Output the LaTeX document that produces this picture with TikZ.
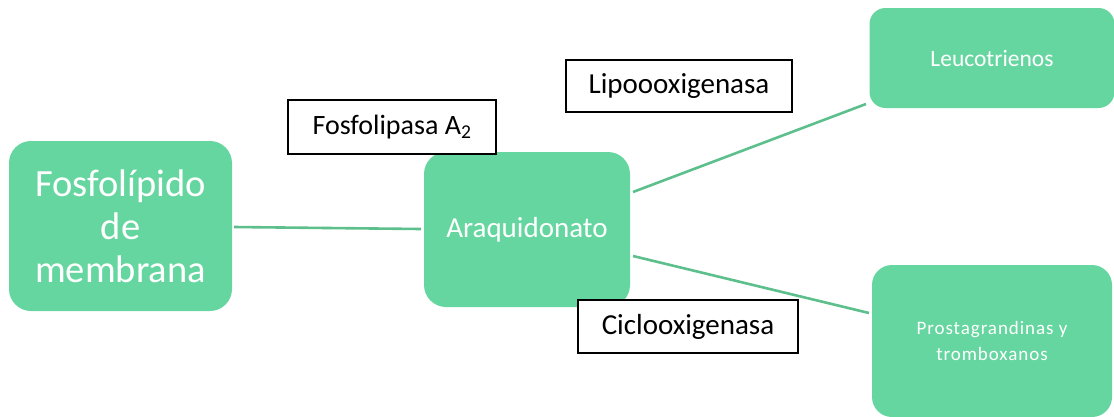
\documentclass[tikz,border=0pt]{standalone}
\usepackage{fontspec}
\setmainfont{Carlito}
\begin{document}
\begin{tikzpicture}[x=1pt,y=-1pt,
  gbox/.style={fill=boxg, draw=none, rounded corners=22pt, text=white, align=center, inner sep=0pt},
  lbl/.style={draw=black, line width=1.6pt, fill=white, text=black, inner sep=0pt, font=\fontsize{29}{34}\selectfont},
  conn/.style={draw=lineg, line width=2.6pt}]
\definecolor{boxg}{HTML}{66D6A0}
\definecolor{lineg}{HTML}{5CBF8C}
\useasboundingbox (0,0) rectangle (1114,416);
\node[gbox, minimum width=223pt, minimum height=170pt, font=\fontsize{38.5}{43}\selectfont] (fos) at (120.5,226) {Fosfolípido\\de\\membrana};
\node[gbox, minimum width=206pt, minimum height=155pt, font=\fontsize{29}{34}\selectfont] (ara) at (527,229.5) {Araquidonato};
\node[gbox, minimum width=245pt, minimum height=100pt, rounded corners=16pt, font=\fontsize{23.5}{26}\selectfont] (leu) at (992,58) {Leucotrienos};
\node[gbox, minimum width=240pt, minimum height=152pt, rounded corners=20pt, font=\fontsize{19}{26}\selectfont\addfontfeature{LetterSpace=5}] (pro) at (992,341) {Prostagrandinas y\\tromboxanos};
\node[lbl, minimum width=208pt, minimum height=54pt, font=\fontsize{28}{34}\selectfont] (fla) at (392,127) {Fosfolipasa A\textsubscript{2}};
\node[lbl, minimum width=226pt, minimum height=52pt] (lip) at (679,86) {Lipoooxigenasa};
\node[lbl, minimum width=220pt, minimum height=53pt] (cic) at (688,326.5) {Ciclooxigenasa};
\coordinate (a1) at (234,227);
\coordinate (a2) at (421,229);
\coordinate (b1) at (633,192);
\coordinate (b2) at (866,104);
\coordinate (c1) at (633,256);
\coordinate (c2) at (869,313);
\draw[conn] (a1) -- (a2);
\draw[conn] (b1) -- (b2);
\draw[conn] (c1) -- (c2);
\end{tikzpicture}
\end{document}
